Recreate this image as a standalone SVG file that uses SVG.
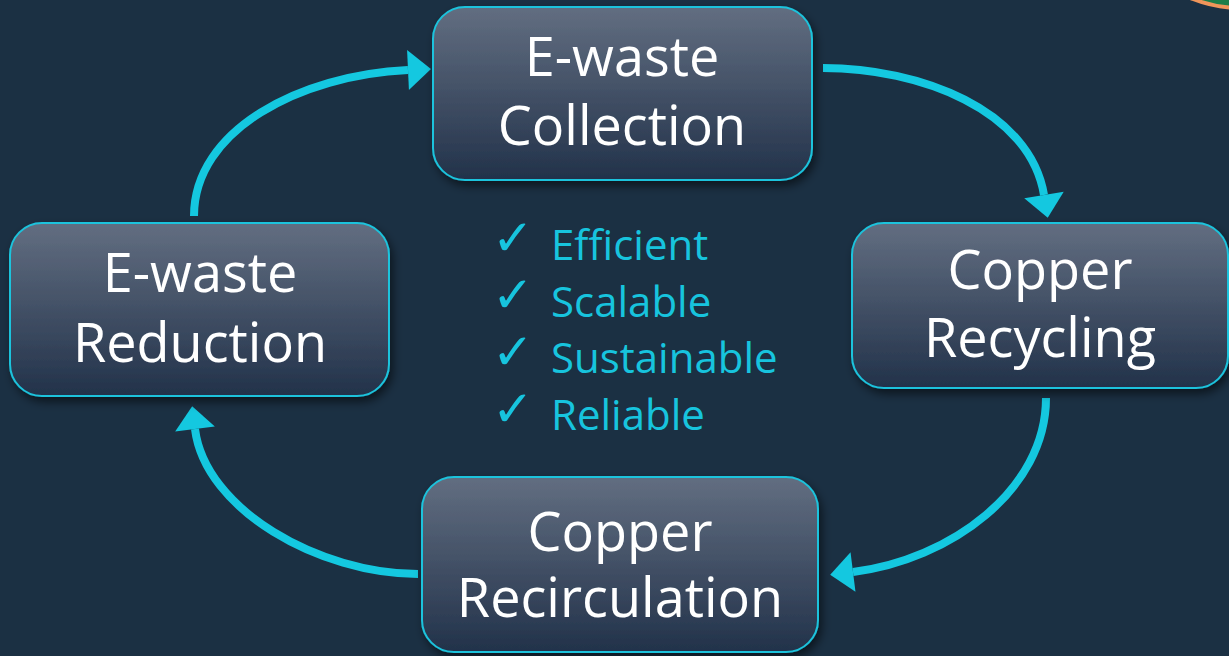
<svg xmlns="http://www.w3.org/2000/svg" width="1229" height="656" viewBox="0 0 1229 656">
  <defs>
    <linearGradient id="boxGrad" x1="0" y1="0" x2="0" y2="1">
      <stop offset="0" stop-color="#626e81"/>
      <stop offset="1" stop-color="#22324a"/>
    </linearGradient>
    <filter id="shadow" x="-10%" y="-10%" width="125%" height="130%">
      <feDropShadow dx="3" dy="5" stdDeviation="5" flood-color="#000000" flood-opacity="0.55"/>
    </filter>
    <marker id="arrow" markerUnits="userSpaceOnUse" markerWidth="24" markerHeight="40" refX="0" refY="20" orient="auto" overflow="visible">
      <path d="M0,0 L23,20 L0,40 Z" fill="#14c8e0"/>
    </marker>
    <style>
      .box { fill: url(#boxGrad); stroke: #1cc3dc; stroke-width: 2; filter: url(#shadow); }
      .label { font-family: "Open Sans", "Noto Sans", sans-serif; font-size: 54px; fill: #ffffff; text-anchor: middle; }
      .conn { fill: none; stroke: #14c8e0; stroke-width: 8; marker-end: url(#arrow); }
      .check { font-family: "DejaVu Sans", sans-serif; font-size: 50px; fill: #17c4de; }
      .item { font-family: "Open Sans", "Noto Sans", sans-serif; font-size: 42px; fill: #17c4de; }
    </style>
  </defs>

  <rect x="0" y="0" width="1229" height="656" fill="#1b3043"/>

  <!-- partial circle in top-right corner -->
  <circle cx="1240" cy="-120" r="128" fill="#1e7e4a" stroke="#f0955a" stroke-width="4"/>

  <g id="connectors">
    <path class="conn" d="M823,68 C920,68 1030,110 1044,195"/>
    <path class="conn" d="M1046,398 C1046,490 950,560 853,572"/>
    <path class="conn" d="M418,574 C320,574 205,510 195,429"/>
    <path class="conn" d="M194,216 C194,130 300,75 408,70"/>
  </g>

  <g id="node-collection">
    <rect class="box" x="433" y="7" width="379" height="173" rx="32"/>
    <text class="label" x="622" y="76">E-waste</text>
    <text class="label" x="622" y="145">Collection</text>
  </g>

  <g id="node-recycling">
    <rect class="box" x="852" y="223" width="376" height="165" rx="32"/>
    <text class="label" x="1040" y="289">Copper</text>
    <text class="label" x="1040" y="357">Recycling</text>
  </g>

  <g id="node-recirculation">
    <rect class="box" x="422" y="477" width="396" height="175" rx="32"/>
    <text class="label" x="620" y="551">Copper</text>
    <text class="label" x="620" y="617">Recirculation</text>
  </g>

  <g id="node-reduction">
    <rect class="box" x="10" y="223" width="379" height="173" rx="32"/>
    <text class="label" x="200" y="292">E-waste</text>
    <text class="label" x="200" y="362">Reduction</text>
  </g>

  <g id="checklist">
    <text class="check" x="492" y="255">✓</text>
    <text class="item" x="551" y="260">Efficient</text>
    <text class="check" x="492" y="312">✓</text>
    <text class="item" x="551" y="317">Scalable</text>
    <text class="check" x="492" y="369">✓</text>
    <text class="item" x="551" y="373">Sustainable</text>
    <text class="check" x="492" y="426">✓</text>
    <text class="item" x="551" y="430">Reliable</text>
  </g>
</svg>
